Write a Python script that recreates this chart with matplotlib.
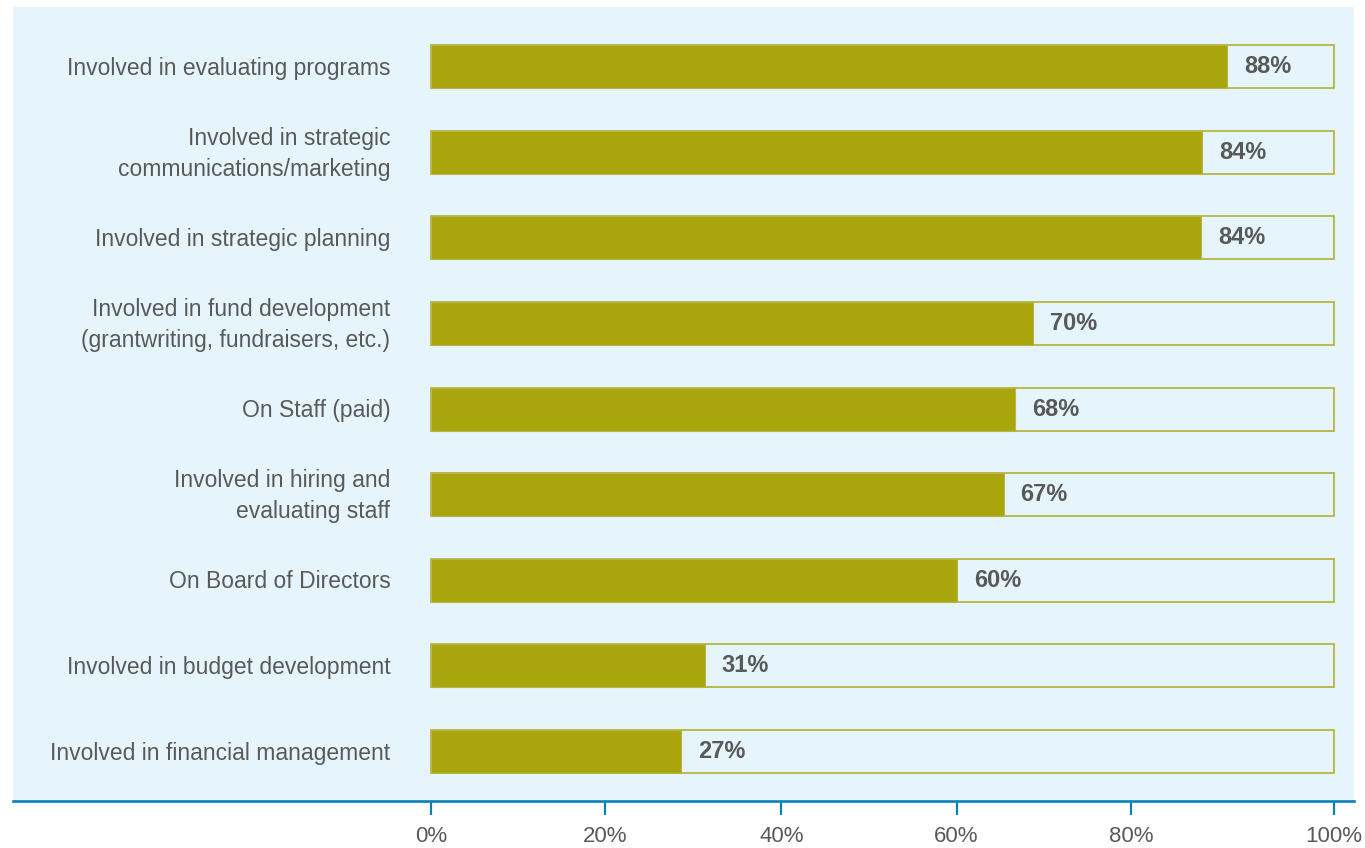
import matplotlib.pyplot as plt

categories = [
    "Involved in evaluating programs",
    "Involved in strategic\ncommunications/marketing",
    "Involved in strategic planning",
    "Involved in fund development\n(grantwriting, fundraisers, etc.)",
    "On Staff (paid)",
    "Involved in hiring and\nevaluating staff",
    "On Board of Directors",
    "Involved in budget development",
    "Involved in financial management",
]
bar_values = [88.2, 85.4, 85.3, 66.7, 64.7, 63.4, 58.3, 30.3, 27.7]
value_labels = ["88%", "84%", "84%", "70%", "68%", "67%", "60%", "31%", "27%"]
tick_pos = [0, 19.3, 38.8, 58.2, 77.5, 100]
tick_labels = ["0%", "20%", "40%", "60%", "80%", "100%"]

olive = "#a9a60d"
panel = "#e6f5fc"
blue = "#0b80b6"
grey = "#595959"

plt.rcParams["font.family"] = ["Liberation Sans", "DejaVu Sans"]

fig = plt.figure(figsize=(13.65, 8.48), dpi=100)
ax = fig.add_axes([13 / 1365, 47 / 848, 1341 / 1365, 794 / 848])
ax.set_facecolor(panel)

ypos = list(range(len(categories)))

# full-width frame, then the filled part
ax.barh(ypos, [100] * len(ypos), height=0.502, color="none",
        edgecolor="#b2b030", linewidth=1.2, zorder=2)
ax.barh(ypos, bar_values, height=0.502, color=olive,
        edgecolor="#b8b64a", linewidth=0.8, zorder=3)

for y, v, lab in zip(ypos, bar_values, value_labels):
    ax.annotate(lab, xy=(v, y), xytext=(12, 0), textcoords="offset points",
                ha="left", va="center", fontsize=17, fontweight="bold",
                color=grey, zorder=4)

# category labels, right-aligned just left of the bars
for y, cat in zip(ypos, categories):
    ax.text(-4.5, y + 0.02, cat, ha="right", va="center", fontsize=16.5,
            color=grey, linespacing=1.45)

ax.set_xlim(-46.29, 102.21)
ax.set_ylim(8.578, -0.695)
ax.set_yticks([])

ax.set_xticks(tick_pos)
ax.set_xticklabels(tick_labels, fontsize=16, color=grey)
ax.tick_params(axis="x", direction="out", length=10, width=1.6,
               color=blue, pad=8)

for side in ["top", "right", "left"]:
    ax.spines[side].set_visible(False)
ax.spines["bottom"].set_color(blue)
ax.spines["bottom"].set_linewidth(1.9)

fig.savefig("out.png", dpi=100, facecolor="white")
